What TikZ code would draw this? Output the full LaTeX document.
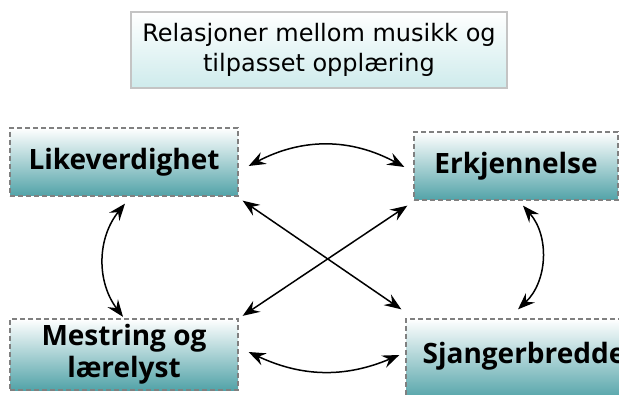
\documentclass[tikz,border=0pt]{standalone}
\usepackage{fontspec}
\setmainfont{DejaVu Sans}
\newfontfamily\boxfont{Open Sans}
\usepackage{tikz}
\usetikzlibrary{arrows.meta,positioning}
\usepackage{xcolor}
\definecolor{boxTeal}{RGB}{82,163,168}
\definecolor{paleAqua}{RGB}{206,235,236}
\definecolor{rimGray}{RGB}{196,196,196}
\definecolor{dashGray}{RGB}{128,128,128}
\tikzset{
  heading/.style={draw=rimGray, line width=1.2pt, top color=white, bottom color=paleAqua,
                  align=center, minimum width=376pt, minimum height=76pt,
                  font=\fontsize{24}{30}\selectfont},
  topic/.style={draw=dashGray, line width=1.3pt, dash pattern=on 5pt off 3pt,
                top color=white, bottom color=boxTeal, align=center,
                minimum height=68pt, inner sep=2pt,
                font=\boxfont\fontsize{28}{32}\selectfont\bfseries},
  linkhead/.tip={Stealth[length=17pt,width=13pt,inset=6pt]},
  link/.style={arrows={linkhead-linkhead}, line width=1.5pt, draw=black}
}
\begin{document}
\begin{tikzpicture}[x=1pt, y=1pt]
  \useasboundingbox (0,0) rectangle (619,394);
  \node[heading] (title) at (319,344) {Relasjoner mellom musikk og\\tilpasset opplæring};
  \node[topic, minimum width=228pt] (like) at (124,232) {Likeverdighet};
  \node[topic, minimum width=204pt] (erk) at (516,228) {Erkjennelse};
  \node[topic, minimum width=228pt, minimum height=71pt] (mest) at (124,39.5) {Mestring og\\lærelyst};
  \node[topic, minimum width=236pt, minimum height=81pt, text depth=14pt] (sjang) at (524,34.5) {Sjangerbredde};
  % curved links between neighbours
  \draw[link] ([shift={(10,-4)}]like.east) to[bend left=28] ([shift={(-9,-1)}]erk.west);
  \draw[link] ([shift={(10,2.5)}]mest.east) to[bend right=24] ([shift={(-6,4.5)}]sjang.west);
  \draw[link] ([shift={(1,-7)}]like.south) to[bend right=38] ([shift={(-1,1.5)}]mest.north);
  \draw[link] ([shift={(7,-5)}]erk.south) to[bend left=44] ([shift={(-6,9)}]sjang.north);
  % crossing links
  \draw[link] ([shift={(4,-4)}]like.south east) -- ([shift={(-4,9)}]sjang.north west);
  \draw[link] ([shift={(4,2.5)}]mest.north east) -- ([shift={(-6,-5)}]erk.south west);
\end{tikzpicture}
\end{document}
